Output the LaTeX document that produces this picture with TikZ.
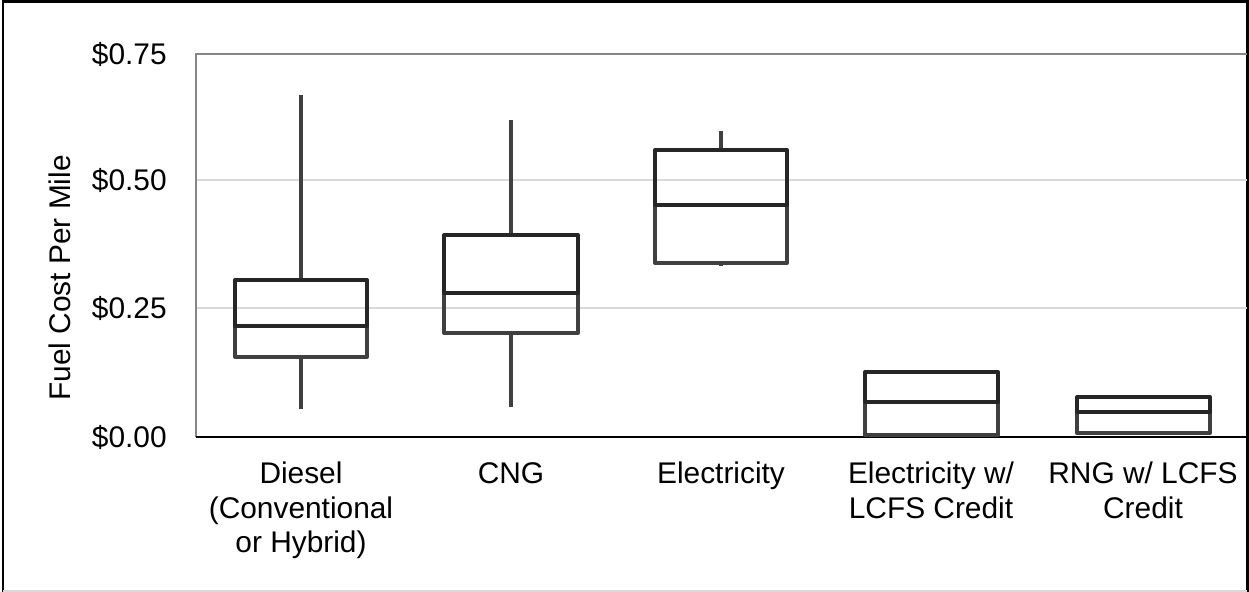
\documentclass[tikz,border=0pt]{standalone}
\usepackage{fontspec}
\setmainfont{Liberation Sans}
\usetikzlibrary{positioning}

\definecolor{gridgray}{HTML}{D9D9D9}
\definecolor{axisgray}{HTML}{868686}
\definecolor{boxdark}{HTML}{262626}
\definecolor{boxmid}{HTML}{404040}

\tikzset{
  chartframe/.style={draw=black, line width=1.2pt},
  gridline/.style={draw=gridgray, line width=1.1pt},
  plotedge/.style={draw=axisgray, line width=1.1pt},
  baseaxis/.style={draw=black, line width=1.5pt},
  upperbox/.style={draw=boxdark, line width=2.3pt, line join=round},
  lowerbox/.style={draw=boxmid, line width=2.3pt, line join=round},
  whisker/.style={draw=boxmid, line width=2.3pt},
  ticklabel/.style={anchor=east, inner sep=0pt, font=\fontsize{17}{19.6}\selectfont},
  catlabel/.style={anchor=north, inner sep=0pt, align=center, font=\fontsize{17}{19.6}\selectfont}
}

\begin{document}
\begin{tikzpicture}[x=0.02cm, y=-0.02cm]
\useasboundingbox (0,0) rectangle (1249,592);
% outer frame
\draw [chartframe] (3,592) -- (3,1.5) -- (1247.5,1.5) -- (1247.5,592);
\draw [gridline] (3,591) -- (1247,591);
% plot area
\draw [gridline] (196,180) -- (1247,180);
\draw [gridline] (196,308) -- (1247,308);
\draw [plotedge] (1247,54) -- (196,54) -- (196,437);
\draw [baseaxis] (196,437) -- (1249,437);
% y axis labels
\node [ticklabel] (t075) at (167,54) {\$0.75};
\node [ticklabel] (t050) at (167,180) {\$0.50};
\node [ticklabel] (t025) at (167,308) {\$0.25};
\node [ticklabel] (t000) at (167,437) {\$0.00};
\node [rotate=90, inner sep=0pt, font=\fontsize{17}{19.6}\selectfont] (ytitle) at (60,278) {Fuel Cost Per Mile};
% Diesel
\draw [whisker] (301,95) -- (301,280);
\draw [whisker] (301,357) -- (301,409);
\draw [lowerbox] (235,326) rectangle (367,357);
\draw [upperbox] (235,280) rectangle (367,326);
% CNG
\draw [whisker] (511,120) -- (511,235);
\draw [whisker] (511,333) -- (511,407);
\draw [lowerbox] (444,293) rectangle (578,333);
\draw [upperbox] (444,235) rectangle (578,293);
% Electricity
\draw [whisker] (721,131) -- (721,150);
\draw [whisker] (721,263) -- (721,266);
\draw [lowerbox] (655,205) rectangle (787,263);
\draw [upperbox] (655,150) rectangle (787,205);
% Electricity w/ LCFS credit
\draw [lowerbox] (865,402) rectangle (998,435);
\draw [upperbox] (865,372) rectangle (998,402);
% RNG w/ LCFS credit
\draw [lowerbox] (1077,412) rectangle (1210,433);
\draw [upperbox] (1077,397) rectangle (1210,412);
% category labels
\node [catlabel] (diesel) at (301,462) {Diesel\\(Conventional\\or Hybrid)};
\node [catlabel] (cng) at (511,462) {CNG};
\node [catlabel] (elec) at (721,462) {Electricity};
\node [catlabel] (eleclcfs) at (931,462) {Electricity w/\\LCFS Credit};
\node [catlabel] (rnglcfs) at (1143,462) {RNG w/ LCFS\\Credit};
\end{tikzpicture}
\end{document}
